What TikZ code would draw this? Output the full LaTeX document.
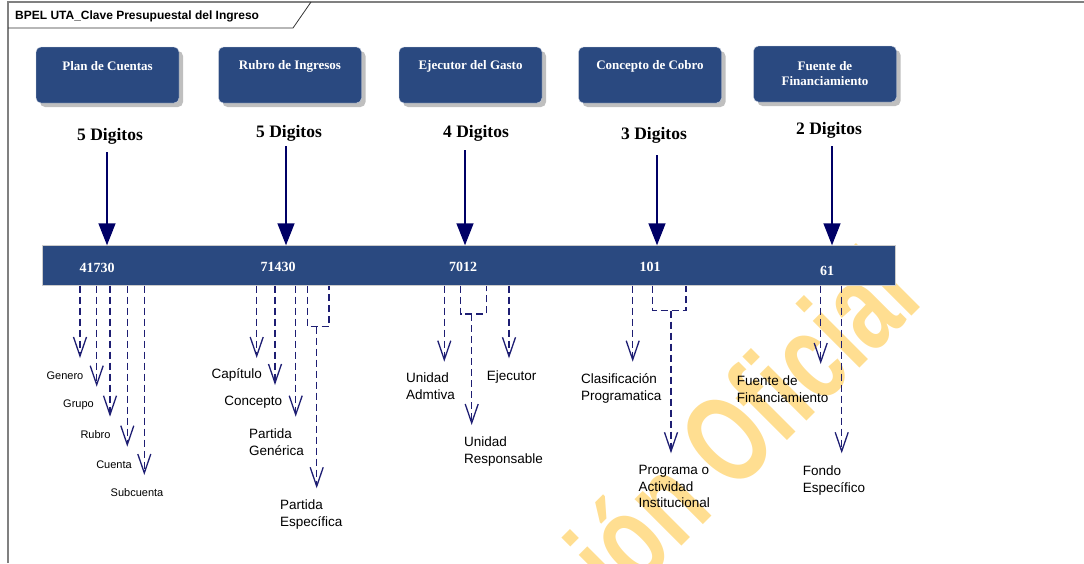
\documentclass[tikz,border=0pt]{standalone}
\usepackage{fontspec}
\setmainfont{Liberation Serif}
\newfontfamily\arialf{Liberation Sans}
\usetikzlibrary{arrows.meta,shadows}
\pgfdeclarelayer{bg}
\pgfsetlayers{bg,main}
\definecolor{boxblue}{RGB}{42,73,128}
\definecolor{navy}{RGB}{0,0,102}
\definecolor{dashnavy}{RGB}{30,30,115}
\definecolor{wmark}{RGB}{255,222,145}

\begin{document}
\begin{tikzpicture}[x=1pt,y=-1pt,
        hdr/.style={draw=white!75!boxblue, fill=boxblue, rounded corners=5pt, minimum width=143pt,
                minimum height=56pt, inner sep=0pt,
                drop shadow={shadow xshift=4pt, shadow yshift=-4pt, fill=black!25, opacity=1}},
        hdrtext/.style={text=white, font=\bfseries\fontsize{13}{15}\selectfont, align=center, inner sep=0pt},
        digits/.style={font=\bfseries\fontsize{17.5}{20}\selectfont, inner sep=0pt},
        code/.style={text=white, font=\bfseries\fontsize{14}{16}\selectfont, inner sep=0pt},
        bar/.style={fill=boxblue, draw=black!20, minimum width=853pt, minimum height=40pt, inner sep=0pt},
        lbl/.style={font=\arialf\fontsize{13.5}{16.7}\selectfont, align=left, inner sep=0pt, anchor=north west},
        small/.style={font=\arialf\fontsize{11}{13}\selectfont, inner sep=0pt},
        digarrow/.style={draw=navy, line width=1.5pt, -{Triangle[length=22pt,width=17pt]}},
        sub/.style={draw=dashnavy, line width=1.3pt, dash pattern=on 7pt off 4pt,
                -{Straight Barb[length=19pt,width=13pt]}},
        tick/.style={draw=dashnavy, line width=1.3pt, dash pattern=on 7pt off 4pt}]
        \useasboundingbox (0,0) rectangle (1084,563);
        % watermark
        \begin{pgfonlayer}{bg}
                \begin{scope}
                        \clip (0,0) rectangle (1084,563);
                        \begin{scope}[shift={(925,303)}, rotate=45, xscale=0.71]
                                \node (wm) [transform shape, text=wmark, font=\arialf\bfseries\fontsize{125}{128}\selectfont,
                                        anchor=base east, inner sep=0pt] at (0,0) {Versión Oficial};
                        \end{scope}
                \end{scope}
        \end{pgfonlayer}
        % frame
        \draw [black!50, line width=1.5pt] (8,563) -- (8,2) -- (1084,2);
        \node (title) [font=\arialf\bfseries\fontsize{12}{14}\selectfont, anchor=west, inner sep=0pt] at (15,16)
                {BPEL UTA\_Clave Presupuestal del Ingreso};
        \draw [black!80, line width=0.8pt] (8,28) -- (293,28) -- (311,2);
        % header boxes
        \node (plan) [hdr] at (107.5,75) {};
        \node (rubro) [hdr] at (290,75) {};
        \node (ejec) [hdr] at (470.5,75) {};
        \node (conc) [hdr] at (650,75) {};
        \node (fuente) [hdr] at (825,74) {};
        \node (plantxt) [hdrtext] at (107.5,66) {Plan de Cuentas};
        \node (rubrotxt) [hdrtext] at (290,66) {Rubro de Ingresos};
        \node (ejectxt) [hdrtext] at (470.5,66) {Ejecutor del Gasto};
        \node (conctxt) [hdrtext] at (650,66) {Concepto de Cobro};
        \node (fuentetxt) [hdrtext] at (825,73.5) {Fuente de\\Financiamiento};
        % digit counts
        \node (d1) [digits] at (110,136) {5 Digitos};
        \node (d2) [digits] at (289,133) {5 Digitos};
        \node (d3) [digits] at (476,133) {4 Digitos};
        \node (d4) [digits] at (654,135) {3 Digitos};
        \node (d5) [digits] at (829,130) {2 Digitos};
        % key bar
        \node (bar) [bar] at (468.5,265.5) {};
        \node (c1) [code] at (97,268) {41730};
        \node (c2) [code] at (278,267) {71430};
        \node (c3) [code] at (463,267) {7012};
        \node (c4) [code] at (650,267) {101};
        \node (c5) [code] at (827,270.5) {61};
        \coordinate (a1) at (107,152);
        \coordinate (a2) at (286,146);
        \coordinate (a3) at (465,150);
        \coordinate (a4) at (657,155);
        \coordinate (a5) at (832,146);
        \draw (a1) edge [digarrow] (a1 |- bar.north);
        \draw (a2) edge [digarrow] (a2 |- bar.north);
        \draw (a3) edge [digarrow] (a3 |- bar.north);
        \draw (a4) edge [digarrow] (a4 |- bar.north);
        \draw (a5) edge [digarrow] (a5 |- bar.north);
        % Plan de Cuentas
        \coordinate (g1) at (80,358);
        \coordinate (g2) at (96.7,386.7);
        \coordinate (g3) at (110,416.7);
        \coordinate (g4) at (127.3,446.7);
        \coordinate (g5) at (144.3,475);
        \draw (g1 |- bar.south) edge [sub] (g1);
        \draw (g2 |- bar.south) edge [sub] (g2);
        \draw (g3 |- bar.south) edge [sub] (g3);
        \draw (g4 |- bar.south) edge [sub] (g4);
        \draw (g5 |- bar.south) edge [sub] (g5);
        \node (genero) [small] at (65,376) {Genero};
        \node (grupo) [small] at (78.5,405) {Grupo};
        \node (rubr) [small] at (95.5,434.5) {Rubro};
        \node (cuenta) [small] at (114,465) {Cuenta};
        \node (subc) [small] at (137,492.5) {Subcuenta};
        % Rubro de Ingresos
        \coordinate (r1) at (256.7,358);
        \coordinate (r2) at (275,385);
        \coordinate (r3) at (295.7,416.7);
        \coordinate (rk1) at (307.7,326.7);
        \coordinate (rk2) at (329,326.7);
        \coordinate (r4) at (316.7,488.3);
        \draw (r1 |- bar.south) edge [sub] (r1);
        \draw (r2 |- bar.south) edge [sub] (r2);
        \draw (r3 |- bar.south) edge [sub] (r3);
        \draw [tick] (rk1 |- bar.south) -- (rk1) -- (rk2) -- (rk2 |- bar.south);
        \draw (r4 |- rk1) edge [sub] (r4);
        \node (capit) [font=\arialf\fontsize{13.5}{16}\selectfont, inner sep=0pt] at (236.7,374.5) {Capítulo};
        \node (concep) [font=\arialf\fontsize{13.5}{16}\selectfont, inner sep=0pt] at (253.3,401.7) {Concepto};
        \node (pgen) [lbl] at (249,429) {Partida\\Genérica};
        \node (pesp) [lbl] at (280,500) {Partida\\Específica};
        % Ejecutor del Gasto
        \coordinate (e1) at (444.3,361.7);
        \coordinate (ek1) at (460.7,314);
        \coordinate (ek2) at (486.7,314);
        \coordinate (e2) at (471.7,425);
        \coordinate (e3) at (509,358.3);
        \draw (e1 |- bar.south) edge [sub] (e1);
        \draw [tick] (ek1 |- bar.south) -- (ek1) -- (ek2) -- (ek2 |- bar.south);
        \draw (e2 |- ek1) edge [sub] (e2);
        \draw (e3 |- bar.south) edge [sub] (e3);
        \node (uadm) [lbl] at (406,372.7) {Unidad\\Admtiva};
        \node (ejecu) [lbl] at (486.7,370.7) {Ejecutor};
        \node (uresp) [lbl] at (464,436.7) {Unidad\\Responsable};
        % Concepto de Cobro
        \coordinate (k1) at (632.7,361.7);
        \coordinate (kk1) at (652.7,310.7);
        \coordinate (kk2) at (686,310.7);
        \coordinate (k2) at (671,453.3);
        \draw (k1 |- bar.south) edge [sub] (k1);
        \draw [tick] (kk1 |- bar.south) -- (kk1) -- (kk2) -- (kk2 |- bar.south);
        \draw (k2 |- kk1) edge [sub] (k2);
        \node (clasif) [lbl] at (581,373.3) {Clasificación\\Programatica};
        \node (prog) [lbl] at (638.3,465) {Programa o\\Actividad\\Institucional};
        % Fuente de Financiamiento
        \coordinate (f1) at (820.7,364);
        \coordinate (f2) at (841.7,453.3);
        \draw (f1 |- bar.south) edge [sub] (f1);
        \draw (f2 |- bar.south) edge [sub] (f2);
        \node (ffin) [lbl] at (736.7,375.7) {Fuente de\\Financiamiento};
        \node (fondo) [lbl] at (802.7,465.7) {Fondo\\Específico};
\end{tikzpicture}
\end{document}
